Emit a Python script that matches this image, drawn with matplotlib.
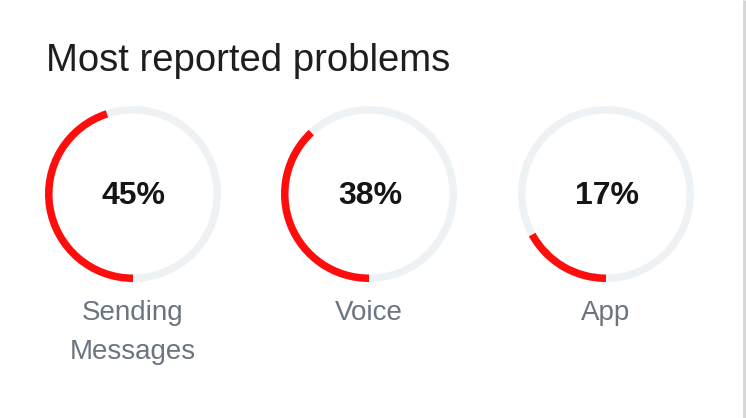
import matplotlib.pyplot as plt
from matplotlib.patches import Wedge

# data
TITLE = "Most reported problems"
CATEGORIES = ["Sending\nMessages", "Voice", "App"]
PERCENTS = [45, 38, 17]

# style
W, H = 746, 418
RED = '#ff0d0d'
TRACK = '#eff2f4'
LABEL_FG = '#6b7480'
VALUE_FG = '#151515'
FONT = 'Liberation Sans'

CENTRES_X = [133, 369, 606]
CENTRE_Y = 194
R_OUT = 88
RING_W = 7.5

fig = plt.figure(figsize=(W / 100, H / 100), dpi=100)
ax = fig.add_axes([0, 0, 1, 1])
ax.set_xlim(0, W)
ax.set_ylim(H, 0)          # pixel coords, y downwards
ax.set_aspect('equal')
ax.axis('off')

ax.text(46, 71, TITLE, fontsize=27.5, color='#1e1e1e', family=FONT,
        ha='left', va='baseline')

for cx, label, pct in zip(CENTRES_X, CATEGORIES, PERCENTS):
    # background track
    ax.add_patch(Wedge((cx, CENTRE_Y), R_OUT, 0, 360, width=RING_W,
                       facecolor=TRACK, edgecolor='none'))
    # value arc: starts at 6 o'clock, runs clockwise
    # (y axis is flipped, so data angle 90 is the bottom)
    ax.add_patch(Wedge((cx, CENTRE_Y), R_OUT, 90, 90 + 360 * pct / 100,
                       width=RING_W, facecolor=RED, edgecolor='none'))
    ax.text(cx + 1, CENTRE_Y + 2, f"{pct}%", fontsize=23, fontweight='bold',
            color=VALUE_FG, family=FONT, ha='center', va='center')
    ax.text(cx, 300, label, fontsize=20, color=LABEL_FG, family=FONT,
            ha='center', va='top', linespacing=1.65)

# right card border
ax.plot([744, 744], [0, H], color='#d4d4d4', lw=2, solid_capstyle='butt')

fig.savefig('out.png', dpi=100, facecolor='white')
